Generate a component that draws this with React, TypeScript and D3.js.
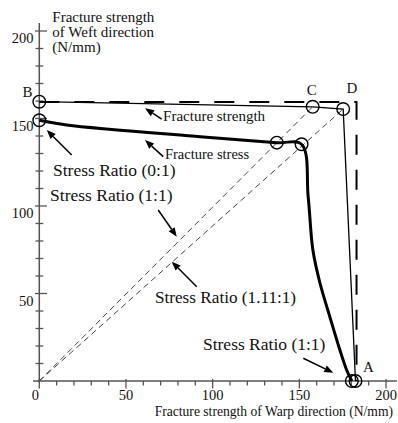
import React from "react";
import * as d3 from "d3";

const W = 398;
const H = 423;

// Fracture strength envelope (B -> C -> D -> A)
const strengthX = [0, 157.7, 175.3, 182.4];
const strengthY = [159.6, 156.7, 155.4, 0];
// Fracture stress curve
const stressX = [0, 15.8, 92.7, 137.0, 151.3, 155.1, 157.8, 161.9, 167.6, 173.4, 177.3, 180.3];
const stressY = [149.0, 146.3, 139.6, 136.2, 135.3, 105.3, 75.0, 56.0, 36.7, 17.7, 6.3, 0];
// circles on fracture stress
const stressPointX = [0, 137.0, 151.3, 180.3];
const stressPointY = [149.0, 136.2, 135.3, 0];
// Theoretical rectangle (dashed)
const rectX = [0, 183.0, 183.0];
const rectY = [159.4, 159.4, 0];
// stress ratio lines end points
const ratioEndX = [157.7, 175.3];
const ratioEndY = [156.7, 155.4];

const xTicks = d3.range(0, 201, 10);
const yTicks = d3.range(10, 201, 10);
const xLabels = [0, 50, 100, 150, 200];
const yLabels = [50, 100, 150, 200];

const pointLabels = ["B", "C", "D", "A"];
const pointLabelX = [-6.8, 157.1, 180.4, 186.7];
const pointLabelY = [162.3, 163.4, 164.4, 5.3];
const pointLabelAnchor = ["middle", "middle", "middle", "start"];

const noteTexts = [
  "Fracture strength",
  "Fracture stress",
  "Stress Ratio (0:1)",
  "Stress Ratio (1:1)",
  "Stress Ratio (1.11:1)",
  "Stress Ratio (1:1)",
];
const noteX = [71.4, 72.5, 7.9, 6.2, 66.7, 94.4];
const noteY = [148.6, 126.9, 117.1, 102.6, 44.6, 17.7];
const noteSize = [15, 14.5, 17.5, 17.5, 17.2, 17.5];

const arrowTailX = [70.6, 71.5, 18.7, 68.6, 90.8, 152.3];
const arrowTailY = [149.7, 128.2, 129.1, 97.7, 53.9, 13.0];
const arrowHeadX = [61.0, 61.0, 4.3, 79.3, 76.4, 169.6];
const arrowHeadY = [155.8, 137.7, 143.4, 82.5, 68.2, 4.7];

const FONT = "'Liberation Serif', 'Times New Roman', serif";

export default function App() {
  const x = d3.scaleLinear().domain([0, 200]).range([39.3, 386]);
  const y = d3.scaleLinear().domain([0, 200]).range([381, 31]);

  const line = d3
    .line<[number, number]>()
    .x((d) => x(d[0]))
    .y((d) => y(d[1]));
  const curve = d3
    .line<[number, number]>()
    .x((d) => x(d[0]))
    .y((d) => y(d[1]))
    .curve(d3.curveCatmullRom.alpha(0.5));

  const strengthPts = strengthX.map((v, i) => [v, strengthY[i]] as [number, number]);
  const stressPts = stressX.map((v, i) => [v, stressY[i]] as [number, number]);
  const rectPts = rectX.map((v, i) => [v, rectY[i]] as [number, number]);

  const axisColor = "#555";

  const arrows = arrowTailX.map((_, i) => {
    const x1 = x(arrowTailX[i]);
    const y1 = y(arrowTailY[i]);
    const x2 = x(arrowHeadX[i]);
    const y2 = y(arrowHeadY[i]);
    const ang = Math.atan2(y2 - y1, x2 - x1);
    const L = 9;
    const w = 3.6;
    const bx = x2 - L * Math.cos(ang);
    const by = y2 - L * Math.sin(ang);
    const px = -Math.sin(ang) * w;
    const py = Math.cos(ang) * w;
    return (
      <g key={"a" + i}>
        <line x1={x1} y1={y1} x2={bx} y2={by} stroke="#000" strokeWidth={1.5} />
        <polygon
          points={`${x2},${y2} ${bx + px},${by + py} ${bx - px},${by - py}`}
          fill="#000"
        />
      </g>
    );
  });

  return (
    <svg
      width={W}
      height={H}
      style={{ position: "absolute", left: 0, top: 0, background: "#fff" }}
      fontFamily={FONT}
    >
      <rect x={0} y={0} width={W} height={H} fill="#fff" />
      {/* axes */}
      <line x1={x(0)} y1={23} x2={x(0)} y2={383} stroke={axisColor} strokeWidth={1.5} />
      <line x1={33} y1={y(0)} x2={397} y2={y(0)} stroke={axisColor} strokeWidth={1.5} />
      {yTicks.map((t) => {
        const major = t % 50 === 0;
        return (
          <line
            key={"yt" + t}
            x1={major ? 35 : 35.5}
            x2={major ? 47 : 43.3}
            y1={y(t)}
            y2={y(t)}
            stroke={axisColor}
            strokeWidth={1.3}
          />
        );
      })}
      {xTicks.map((t) => {
        const major = t % 50 === 0;
        return (
          <line
            key={"xt" + t}
            x1={x(t)}
            x2={x(t)}
            y1={major ? y(0) - 2 : y(0)}
            y2={major ? y(0) + 7.5 : y(0) + 4.5}
            stroke={axisColor}
            strokeWidth={1.3}
          />
        );
      })}
      {yLabels.map((t) => (
        <text key={"yl" + t} x={33.5} y={y(t) + 12} fontSize={14.5} textAnchor="end" fill="#111">
          {t}
        </text>
      ))}
      {xLabels.map((t) => (
        <text
          key={"xl" + t}
          x={t === 0 ? x(t) - 4 : x(t)}
          y={400}
          fontSize={14.5}
          textAnchor="middle"
          fill="#111"
        >
          {t}
        </text>
      ))}
      {/* axis titles */}
      <text x={52.3} fontSize={15} fill="#111">
        <tspan x={52.3} y={22}>Fracture strength</tspan>
        <tspan x={52.3} y={37}>of Weft direction</tspan>
        <tspan x={52.3} y={51.5}>(N/mm)</tspan>
      </text>
      <text x={393} y={416} fontSize={13.6} textAnchor="end" fill="#111">
        Fracture strength of Warp direction (N/mm)
      </text>

      {/* stress ratio lines */}
      {ratioEndX.map((v, i) => (
        <line
          key={"r" + i}
          x1={x(0)}
          y1={y(0)}
          x2={x(v)}
          y2={y(ratioEndY[i])}
          stroke="#444"
          strokeWidth={1}
          strokeDasharray="6,4"
        />
      ))}

      {/* theoretical dashed rectangle */}
      <path d={line(rectPts) || ""} fill="none" stroke="#000" strokeWidth={2} strokeDasharray="20,15" />

      {/* fracture strength */}
      <path d={line(strengthPts) || ""} fill="none" stroke="#000" strokeWidth={1.3} />
      {/* fracture stress */}
      <path d={curve(stressPts) || ""} fill="none" stroke="#000" strokeWidth={3} />

      {/* circles */}
      {strengthX.map((v, i) => (
        <circle key={"cs" + i} cx={x(v)} cy={y(strengthY[i])} r={6.3} fill="none" stroke="#000" strokeWidth={1.4} />
      ))}
      {stressPointX.map((v, i) => (
        <circle key={"cp" + i} cx={x(v)} cy={y(stressPointY[i])} r={6.3} fill="none" stroke="#000" strokeWidth={1.4} />
      ))}

      {/* point labels */}
      {pointLabels.map((s, i) => (
        <text
          key={"pl" + i}
          x={x(pointLabelX[i])}
          y={y(pointLabelY[i])}
          fontSize={15}
          textAnchor={pointLabelAnchor[i] as any}
          fill="#111"
        >
          {s}
        </text>
      ))}

      {/* annotations */}
      {noteTexts.map((s, i) => (
        <text key={"n" + i} x={x(noteX[i])} y={y(noteY[i])} fontSize={noteSize[i]} fill="#111">
          {s}
        </text>
      ))}
      {arrows}
    </svg>
  );
}
